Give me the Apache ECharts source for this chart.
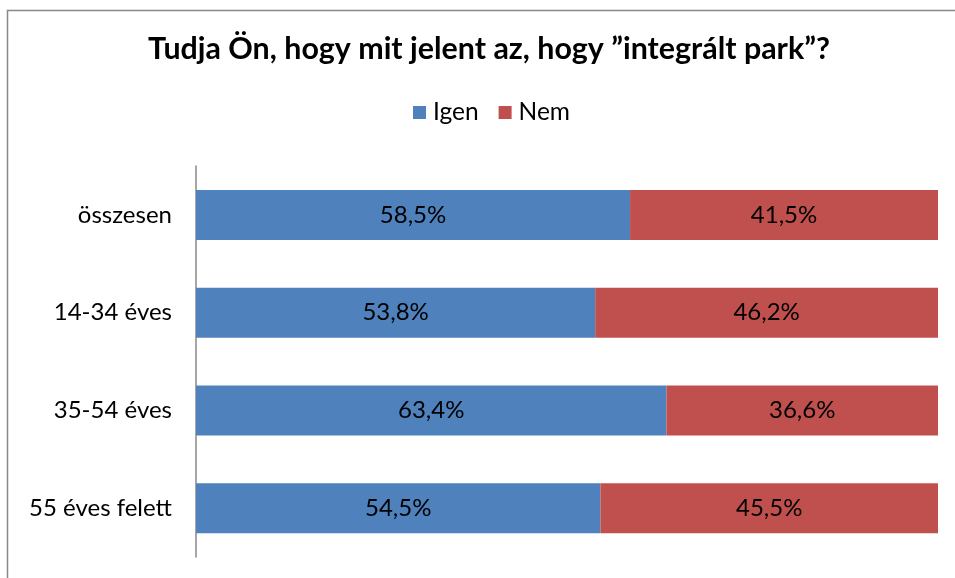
<!DOCTYPE html>
<html><head><meta charset="utf-8">
<script src="https://cdn.jsdelivr.net/npm/echarts@6/dist/echarts.min.js"></script>
<style>html,body{margin:0;padding:0;background:#fff}#c{width:955px;height:578px}</style>
</head><body><div id="c"></div>
<script>
const categories = ['összesen', '14-34 éves', '35-54 éves', '55 éves felett'];
const igen = [58.5, 53.8, 63.4, 54.5];
const nem = [41.5, 46.2, 36.6, 45.5];
const seriesNames = ['Igen', 'Nem'];
const titleText = 'Tudja Ön, hogy mit jelent az, hogy ”integrált park”?';

const font = 'Lato, Carlito, "Noto Sans", sans-serif';
const fmt = p => p.value.toFixed(1).replace('.', ',') + '%';
const chart = echarts.init(document.getElementById('c'));
chart.setOption({
  animation: false,
  graphic: [{type:'rect', shape:{x:7.5, y:10.5, width:1000, height:1000}, style:{fill:'none', stroke:'#888', lineWidth:1.5}}],
  title: {text: titleText, left: 148, top: 34, padding: 0, textStyle:{fontFamily: font, fontWeight:'bold', fontSize:30.4, color:'#000'}},
  legend: {top: 100, left: 413, padding: 0, itemWidth: 13, itemHeight: 13, itemGap: 20, icon: 'rect',
    textStyle:{fontFamily: font, fontSize: 24.5, color:'#000', padding:[0,0,0,2]}, data: seriesNames},
  grid: {left: 196, right: 17, top: 166, bottom: 21, containLabel: false},
  xAxis: {type:'value', min:0, max:100, show:false},
  yAxis: {type:'category', data: categories, inverse: true,
    axisLine:{show:true, lineStyle:{color:'#888', width:1.5}}, axisTick:{show:false},
    axisLabel:{fontFamily: font, fontSize: 24, color:'#000', margin: 24}},
  series: [
    {name: seriesNames[0], type:'bar', stack:'a', data: igen, barWidth: 50, itemStyle:{color:'#4F81BD'},
     label:{show:true, position:'inside', formatter: fmt, fontFamily: font, fontSize: 24, color:'#000'}},
    {name: seriesNames[1], type:'bar', stack:'a', data: nem, barWidth: 50, itemStyle:{color:'#C0504D'},
     label:{show:true, position:'inside', formatter: fmt, fontFamily: font, fontSize: 24, color:'#000'}}
  ]
});
</script></body></html>
